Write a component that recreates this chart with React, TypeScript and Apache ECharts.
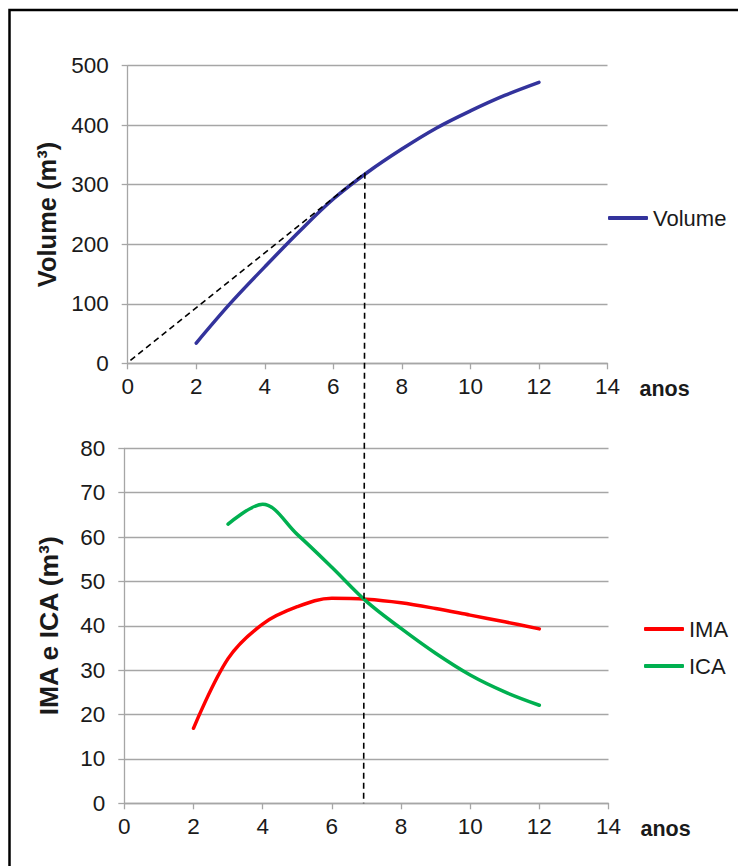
import React, { useEffect, useRef } from "react";
import * as echarts from "echarts";

const years = [2, 3, 4, 5, 6, 7, 8, 9, 10, 11, 12];
const volume = [34, 101, 162, 221, 276, 321, 360, 395, 424, 450, 472];
const ima = [16.9, 32.6, 40.4, 44.3, 46.2, 46.0, 45.2, 43.9, 42.4, 40.9, 39.3];
const icaYears = [3, 4, 5, 6, 7, 8, 9, 10, 11, 12];
const ica = [62.9, 67.4, 60.6, 53.2, 45.5, 39.4, 33.8, 28.9, 25.1, 22.1];

// tangent line from origin to the volume curve, and the vertical marker at its touch point
const tangentX = [0.08, 6.92];
const tangentY = [5, 320];
const markerX = 6.92;
const markerTopY = 320;
const markerBottomY = 0;

const xTicks = { min: 0, max: 14, interval: 2 };
const volTicks = { min: 0, max: 500, interval: 100 };
const incTicks = { min: 0, max: 80, interval: 10 };

const FONT = "'Liberation Sans', Arial, sans-serif";
const GRID_COLOR = "#a6a6a6";
const TEXT = "#1a1a1a";
const TICK_SIZE = 22.5;

export default function App() {
  const ref = useRef<HTMLDivElement>(null);
  useEffect(() => {
    if (!ref.current) return;
    const chart = echarts.init(ref.current, null, { renderer: "svg" });

    const xAxisBase = (gridIndex: number) => ({
      type: "value",
      gridIndex,
      min: xTicks.min,
      max: xTicks.max,
      interval: xTicks.interval,
      name: "anos",
      nameLocation: "end",
      nameGap: 32,
      nameTextStyle: {
        fontFamily: FONT,
        fontSize: 21.5,
        fontWeight: "bold",
        color: TEXT,
        verticalAlign: "top",
        padding: [15, 0, 0, 0],
      },
      axisLine: { show: true, lineStyle: { color: GRID_COLOR, width: 1.3 } },
      axisTick: { show: true, length: 6, inside: false, lineStyle: { color: GRID_COLOR, width: 1.3 } },
      axisLabel: { fontFamily: FONT, fontSize: TICK_SIZE, color: TEXT, margin: 12 },
      splitLine: { show: false },
    });

    const yAxisBase = (gridIndex: number, t: any, name: string, nameGap: number, nameSize: number) => ({
      type: "value",
      gridIndex,
      min: t.min,
      max: t.max,
      interval: t.interval,
      name,
      nameLocation: "middle",
      nameRotate: 90,
      nameGap,
      nameTextStyle: { fontFamily: FONT, fontSize: nameSize, fontWeight: "bold", color: TEXT },
      axisLine: { show: true, lineStyle: { color: GRID_COLOR, width: 1.3 } },
      axisTick: { show: true, length: 6, lineStyle: { color: GRID_COLOR, width: 1.3 } },
      axisLabel: { fontFamily: FONT, fontSize: TICK_SIZE, color: TEXT, margin: 19 },
      splitLine: { show: true, lineStyle: { color: GRID_COLOR, width: 1.3 } },
    });

    const legendText = { fontFamily: FONT, fontSize: 22, color: TEXT };

    const curve = (name: string, xs: number[], ys: number[], color: string, xi: number) => ({
      name,
      type: "line",
      xAxisIndex: xi,
      yAxisIndex: xi,
      data: xs.map((x, i) => [x, ys[i]]),
      smooth: 0.35,
      showSymbol: false,
      color,
      lineStyle: { color, width: 3.5, cap: "round", join: "round" },
      z: 3,
    });

    chart.setOption({
      animation: false,
      backgroundColor: "#ffffff",
      grid: [
        { left: 127.7, right: 130.5, top: 65.7, height: 297.6, containLabel: false },
        { left: 124.3, right: 129.5, top: 448.3, height: 355, containLabel: false },
      ],
      xAxis: [xAxisBase(0), xAxisBase(1)],
      yAxis: [
        yAxisBase(0, volTicks, "Volume (m³)", 65, 25.5),
        yAxisBase(1, incTicks, "IMA e ICA (m³)", 62, 26.5),
      ],
      legend: [
        {
          data: ["Volume"],
          left: 608,
          top: 207,
          padding: 0,
          orient: "vertical",
          icon: "roundRect",
          itemWidth: 40,
          itemHeight: 4,
          textStyle: legendText,
        },
        {
          data: ["IMA", "ICA"],
          left: 644,
          top: 618,
          padding: 0,
          orient: "vertical",
          icon: "roundRect",
          itemWidth: 40,
          itemHeight: 4,
          itemGap: 15,
          textStyle: legendText,
        },
      ],
      series: [
        curve("Volume", years, volume, "#33339c", 0),
        {
          name: "tangent",
          type: "line",
          xAxisIndex: 0,
          yAxisIndex: 0,
          data: tangentX.map((x, i) => [x, tangentY[i]]),
          showSymbol: false,
          color: "#000",
          lineStyle: { color: "#000", width: 1.6, type: [6, 4] },
          z: 4,
        },
        curve("IMA", years, ima, "#ff0000", 1),
        curve("ICA", icaYears, ica, "#00b050", 1),
      ],
    });

    const top = chart.convertToPixel({ gridIndex: 0 }, [markerX, markerTopY]) as number[];
    const bottom = chart.convertToPixel({ gridIndex: 1 }, [markerX, markerBottomY]) as number[];

    chart.setOption({
      graphic: [
        {
          type: "rect",
          shape: { x: 9.5, y: 10, width: 900, height: 1000 },
          style: { fill: "none", stroke: "#000", lineWidth: 2.5 },
          silent: true,
          z: 100,
        },
        {
          type: "line",
          shape: { x1: top[0], y1: top[1], x2: bottom[0], y2: bottom[1] },
          style: { stroke: "#000", lineWidth: 1.6, lineDash: [6, 4] },
          silent: true,
          z: 100,
        },
      ],
    });

    return () => chart.dispose();
  }, []);

  return (
    <div
      ref={ref}
      style={{ position: "fixed", left: 0, top: 0, width: 738, height: 866, background: "#fff" }}
    />
  );
}
